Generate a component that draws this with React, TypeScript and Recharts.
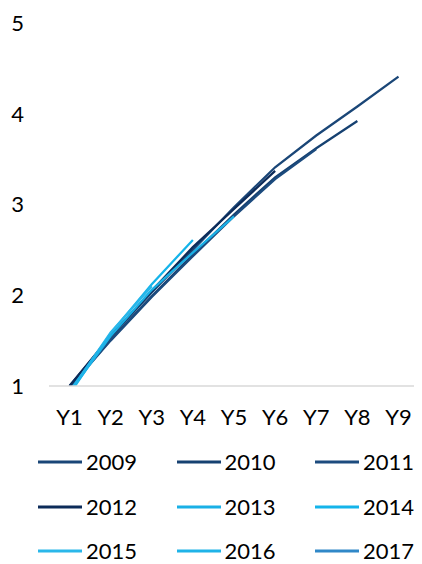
import React from "react";
import { LineChart, Line, XAxis, YAxis, Legend } from "recharts";

const years = ["Y1", "Y2", "Y3", "Y4", "Y5", "Y6", "Y7", "Y8", "Y9"];
const yTicks = [1, 2, 3, 4, 5];

const s2009 = [1.0, 1.54, 2.03, 2.5, 2.97, 3.41, 3.76, 4.08, 4.41];
const s2010 = [0.99, 1.51, 1.99, 2.45, 2.89, 3.3, 3.62, 3.92];
const s2011 = [0.98, 1.5, 1.98, 2.43, 2.87, 3.28, 3.61];
const s2012 = [1.0, 1.55, 2.05, 2.53, 2.95, 3.37];
const s2013 = [0.93, 1.55, 2.06, 2.47, 2.87];
const s2014 = [0.91, 1.58, 2.12, 2.61];
const s2015 = [0.93, 1.59, 2.1];
const s2016 = [0.94, 1.57];
const s2017 = [0.97];

const seriesList = [
  { name: "2009", values: s2009, color: "#1a4677" },
  { name: "2010", values: s2010, color: "#164171" },
  { name: "2011", values: s2011, color: "#1c4b7e" },
  { name: "2012", values: s2012, color: "#0c2b59" },
  { name: "2013", values: s2013, color: "#1ab0e6" },
  { name: "2014", values: s2014, color: "#14b4ea" },
  { name: "2015", values: s2015, color: "#2ab7ea" },
  { name: "2016", values: s2016, color: "#1fb3e8" },
  { name: "2017", values: s2017, color: "#3088c8" },
];

const rows = years.map((y, i) => {
  const row: Record<string, string | number | undefined> = { year: y };
  seriesList.forEach((s) => {
    row[s.name] = i < s.values.length ? s.values[i] : undefined;
  });
  return row;
});

const FONT = "Lato, 'Open Sans', sans-serif";

const LegendGrid = (props: any) => {
  const payload = props.payload || [];
  return (
    <div
      style={{
        display: "grid",
        gridTemplateColumns: "138.5px 138.5px 138.5px",
        rowGap: "22.5px",
        paddingLeft: 30,
        paddingBottom: 2,
        fontFamily: FONT,
        fontSize: 22,
        color: "#000",
      }}
    >
      {payload.map((p: any) => (
        <div
          key={p.value}
          style={{ display: "flex", alignItems: "center", height: 22, lineHeight: "22px" }}
        >
          <svg width={48} height={6} style={{ display: "block" }}>
            <line x1={0} y1={3} x2={44} y2={3} stroke={p.color} strokeWidth={3} />
          </svg>
          <span>{p.value}</span>
        </div>
      ))}
    </div>
  );
};

export default function App() {
  return (
    <LineChart
      width={414}
      height={556}
      data={rows}
      margin={{ top: 15, right: 3, bottom: 0, left: 0 }}
    >
      <XAxis
        dataKey="year"
        height={65}
        padding={{ left: 20.5, right: 20.5 }}
        tickLine={false}
        axisLine={{ stroke: "#d9d9d9", strokeWidth: 1.5 }}
        tickMargin={17}
        interval={0}
        tick={{ fill: "#000", fontSize: 22, fontFamily: FONT }}
      />
      <YAxis
        width={41}
        domain={[1, 5]}
        ticks={yTicks}
        allowDataOverflow
        axisLine={false}
        tickLine={false}
        tickMargin={19}
        tick={{ fill: "#000", fontSize: 22, fontFamily: FONT }}
      />
      <Legend
        verticalAlign="bottom"
        content={<LegendGrid />}
        wrapperStyle={{ height: 113 }}
      />
      {seriesList.map((s) => (
        <Line
          key={s.name}
          dataKey={s.name}
          name={s.name}
          stroke={s.color}
          strokeWidth={2.25}
          dot={false}
          activeDot={false}
          type="linear"
          isAnimationActive={false}
        />
      ))}
    </LineChart>
  );
}
